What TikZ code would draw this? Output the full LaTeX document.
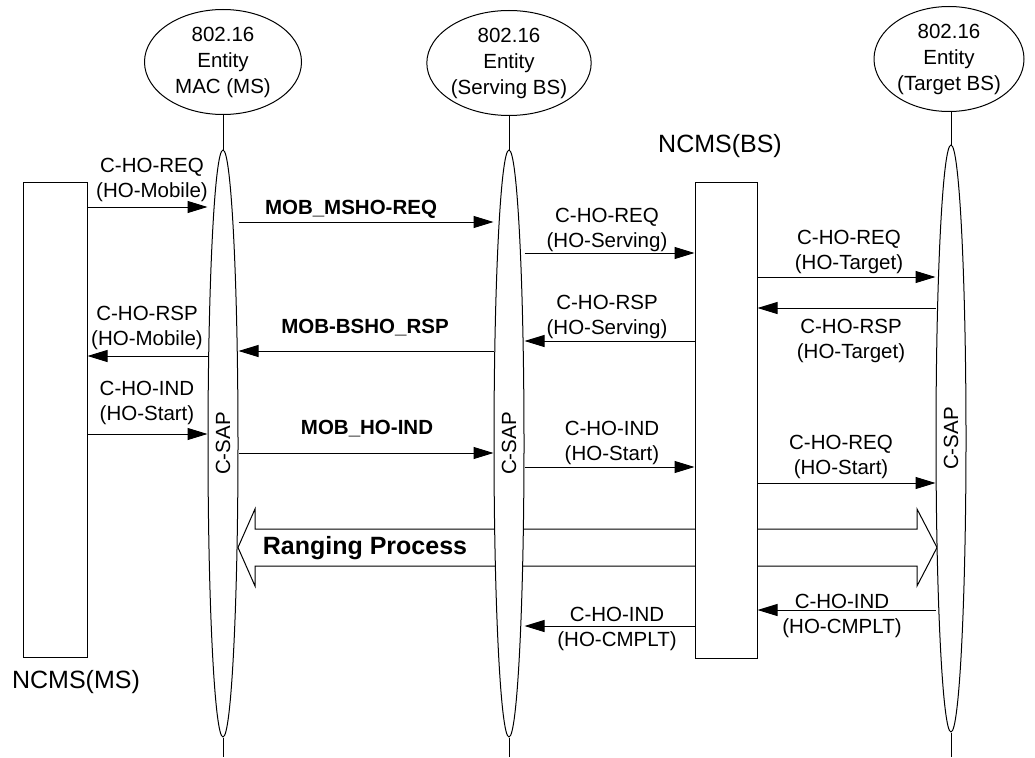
\documentclass[tikz,border=0pt]{standalone}
\usepackage{fontspec}
\setmainfont{Liberation Sans}
\usepackage{tikz}
\usetikzlibrary{arrows.meta,shapes.geometric}
\tikzset{
  entity/.style={
    draw,
    ellipse,
    fill=white,
    minimum width=157pt,
    minimum height=105pt,
    inner sep=0pt,
    align=center,
    font=\fontsize{20.5}{26}\selectfont
  },
  csap/.style={
    draw,
    ellipse,
    fill=white,
    minimum width=30pt,
    minimum height=587pt,
    inner sep=0pt,
    font=\fontsize{20.5}{24}\selectfont
  },
  ncmsbox/.style={
    draw,
    fill=white,
    rectangle,
    inner sep=0pt
  },
  ncmstitle/.style={
    inner sep=0pt,
    font=\fontsize{25}{30}\selectfont
  },
  msgline/.style={
    draw,
    -{Triangle[length=20pt,width=12pt]},
    line width=1pt
  },
  msglabel/.style={
    align=center,
    inner sep=0pt,
    font=\fontsize{20.5}{25}\selectfont
  },
  boldlabel/.style={
    inner sep=0pt,
    font=\fontsize{20.5}{25}\selectfont\bfseries
  },
  rangelabel/.style={
    inner sep=0pt,
    font=\fontsize{25}{30}\selectfont\bfseries
  }
}

\begin{document}
\begin{tikzpicture}[x=1pt,y=-1pt,line width=1pt]
  \useasboundingbox (0,0) rectangle (1035,757);
  % ranging process block arrow (behind the lifelines)
  \draw[fill=white] (238,547.5) -- (255,509) -- (255,529) -- (917,529) -- (917,509) -- (937,547.5)
    -- (917,586) -- (917,566) -- (255,566) -- (255,586) -- cycle;
  \node[rangelabel] (ranging) at (365,548) {Ranging Process};

  \node[entity] (msent) at (223,62) {802.16\\Entity\\MAC (MS)};
  \node[entity] (servent) at (509,63) {802.16\\Entity\\(Serving BS)};
  \node[entity, minimum width=150pt] (targent) at (949,59) {802.16\\Entity\\(Target BS)};
  \node[csap] (mssap) at (223,443.5) {\rotatebox{90}{C-SAP}};
  \node[csap] (servsap) at (509,443.5) {\rotatebox{90}{C-SAP}};
  \node[csap] (targsap) at (951,438.5) {\rotatebox{90}{C-SAP}};
  \node[ncmsbox, minimum width=64pt, minimum height=475pt] (ncmsms) at (55,419.5) {};
  \node[ncmsbox, minimum width=62pt, minimum height=476pt] (ncmsbs) at (726,420) {};
  \node[ncmstitle] (msname) at (76,682) {NCMS(MS)};
  \node[ncmstitle] (bsname) at (720,146) {NCMS(BS)};

  \coordinate (bottom) at (0,757);
  \foreach \ent/\sap in {msent/mssap,servent/servsap,targent/targsap}{
    \draw (\sap.north |- \ent.south) -- (\sap.north);
    \draw (\sap.south) -- (\sap.south |- bottom);
  }

  % messages
  \foreach \yy/\src/\dst in {207/ncmsms.east/mssap.west, 222/mssap.east/servsap.west,
    253/servsap.east/ncmsbs.west, 277/ncmsbs.east/targsap.west, 308/targsap.west/ncmsbs.east,
    341/ncmsbs.west/servsap.east, 351/servsap.west/mssap.east, 356/mssap.west/ncmsms.east,
    434/ncmsms.east/mssap.west, 453/mssap.east/servsap.west, 467/servsap.east/ncmsbs.west,
    483/ncmsbs.east/targsap.west, 610/targsap.west/ncmsbs.east, 626/ncmsbs.west/servsap.east}{
    \coordinate (row) at (0,\yy);
    \draw[msgline] (\src |- row) -- (\dst |- row);
  }

  \node[msglabel] (reqmobile) at (152,180) {C-HO-REQ\\(HO-Mobile)};
  \node[boldlabel] (mshoreq) at (351,209) {MOB\_MSHO-REQ};
  \node[msglabel] (reqserving) at (607,230) {C-HO-REQ\\(HO-Serving)};
  \node[msglabel] (reqtarget) at (849,252) {C-HO-REQ\\(HO-Target)};
  \node[msglabel] (rsptarget) at (851,341) {C-HO-RSP\\(HO-Target)};
  \node[msglabel] (rspserving) at (607,317) {C-HO-RSP\\(HO-Serving)};
  \node[boldlabel] (bshorsp) at (365,328) {MOB-BSHO\_RSP};
  \node[msglabel] (rspmobile) at (147,328) {C-HO-RSP\\(HO-Mobile)};
  \node[msglabel] (indstartms) at (147,403) {C-HO-IND\\(HO-Start)};
  \node[boldlabel] (hoind) at (367,429) {MOB\_HO-IND};
  \node[msglabel] (indstartbs) at (612,443) {C-HO-IND\\(HO-Start)};
  \node[msglabel] (reqstart) at (841,457) {C-HO-REQ\\(HO-Start)};
  \node[msglabel] (cmplttarg) at (842,616) {C-HO-IND\\(HO-CMPLT)};
  \node[msglabel] (cmpltserv) at (617,629) {C-HO-IND\\(HO-CMPLT)};
\end{tikzpicture}
\end{document}
